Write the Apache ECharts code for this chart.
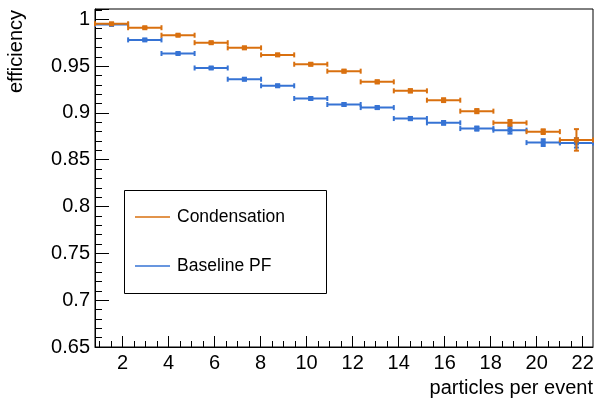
<!DOCTYPE html>
<html>
<head>
<meta charset="utf-8">
<script src="https://cdn.jsdelivr.net/npm/echarts@6/dist/echarts.min.js"></script>
<style>
  html, body { margin: 0; padding: 0; background: #fff; }
  #chart { width: 597px; height: 403px; }
</style>
</head>
<body>
<div id="chart"></div>
<script>
var binEdges = [0.8, 2.24, 3.69, 5.13, 6.57, 8.02, 9.46, 10.9, 12.35, 13.79, 15.23, 16.68, 18.12, 19.56, 21.01, 22.45];
var condensation = [0.9952, 0.991, 0.983, 0.975, 0.9695, 0.962, 0.952, 0.9446, 0.9332, 0.9236, 0.9136, 0.9019, 0.8894, 0.880, 0.8712];
var condensationErr = [0.0005, 0.0008, 0.001, 0.001, 0.0012, 0.0012, 0.0013, 0.0014, 0.0015, 0.0017, 0.002, 0.0022, 0.003, 0.0025, 0.0115];
var baseline = [0.9945, 0.978, 0.9635, 0.948, 0.936, 0.929, 0.9154, 0.909, 0.9057, 0.894, 0.8894, 0.8833, 0.8816, 0.8683, 0.868];
var baselineErr = [0.0005, 0.0008, 0.001, 0.001, 0.0012, 0.0012, 0.0013, 0.0014, 0.0015, 0.0017, 0.002, 0.0022, 0.0037, 0.0036, 0.005];
var xMajorTicks = [2, 4, 6, 8, 10, 12, 14, 16, 18, 20, 22];
var xMinorTicks = [1, 1.5, 2.5, 3, 3.5, 4.5, 5, 5.5, 6.5, 7, 7.5, 8.5, 9, 9.5, 10.5, 11, 11.5,
  12.5, 13, 13.5, 14.5, 15, 15.5, 16.5, 17, 17.5, 18.5, 19, 19.5, 20.5, 21, 21.5, 22.5];

var orange = '#d9700f';
var blue = '#3673d4';
var font = 'Liberation Sans, Arial, Helvetica, sans-serif';

var chartDom = document.getElementById('chart');
var myChart = echarts.init(chartDom);

function histData(vals, errs) {
  return vals.map(function (v, i) {
    return [binEdges[i], binEdges[i + 1], v, errs[i]];
  });
}

function renderBin(color) {
  return function (params, api) {
    var lo = api.value(0), hi = api.value(1), v = api.value(2), e = api.value(3);
    var a = api.coord([lo, v]);
    var b = api.coord([hi, v]);
    var xc = (a[0] + b[0]) / 2;
    var yt = api.coord([lo, v + e])[1];
    var yb = api.coord([lo, v - e])[1];
    var st = { stroke: color, lineWidth: 2 };
    return {
      type: 'group',
      children: [
        { type: 'line', shape: { x1: a[0], y1: a[1], x2: b[0], y2: b[1] }, style: st },
        { type: 'line', shape: { x1: a[0], y1: a[1] - 2.5, x2: a[0], y2: a[1] + 2.5 }, style: st },
        { type: 'line', shape: { x1: b[0], y1: b[1] - 2.5, x2: b[0], y2: b[1] + 2.5 }, style: st },
        { type: 'line', shape: { x1: xc, y1: yt, x2: xc, y2: yb }, style: st },
        { type: 'line', shape: { x1: xc - 2.5, y1: yt, x2: xc + 2.5, y2: yt }, style: st },
        { type: 'line', shape: { x1: xc - 2.5, y1: yb, x2: xc + 2.5, y2: yb }, style: st },
        { type: 'rect', shape: { x: xc - 2.5, y: a[1] - 2.5, width: 5, height: 5 }, style: { fill: color } }
      ]
    };
  };
}

var option = {
  animation: false,
  grid: {
    left: 95, right: 4, top: 9, bottom: 56,
    show: true, borderColor: '#000', borderWidth: 1, backgroundColor: '#fff'
  },
  xAxis: [
    {
      type: 'value', min: 0.8, max: 22.45, position: 'bottom',
      axisLine: { show: true, lineStyle: { color: '#000', width: 1 } },
      axisTick: { show: true, inside: true, length: 11, customValues: xMajorTicks, lineStyle: { color: '#000' } },
      axisLabel: { customValues: xMajorTicks, color: '#000', fontSize: 20, fontFamily: font, margin: 6 },
      splitLine: { show: false }
    },
    {
      type: 'value', min: 0.8, max: 22.45, position: 'bottom',
      axisLine: { show: false },
      axisTick: { show: true, inside: true, length: 6, customValues: xMinorTicks, lineStyle: { color: '#000' } },
      axisLabel: { show: false },
      splitLine: { show: false }
    }
  ],
  yAxis: {
    type: 'value', min: 0.65, max: 1.011, interval: 0.05,
    axisLine: { show: true, lineStyle: { color: '#000', width: 1 } },
    axisTick: { show: true, inside: true, length: 14, lineStyle: { color: '#000' } },
    minorTick: { show: true, splitNumber: 5, length: 7, lineStyle: { color: '#000' } },
    axisLabel: {
      color: '#000', fontSize: 20, fontFamily: font, margin: 5, showMaxLabel: false,
      formatter: function (v) { return String(+v.toFixed(2)); }
    },
    splitLine: { show: false },
    minorSplitLine: { show: false }
  },
  series: [
    {
      name: 'Condensation', type: 'custom', xAxisIndex: 0,
      renderItem: renderBin(orange),
      encode: { x: [0, 1], y: 2 },
      data: histData(condensation, condensationErr), z: 3
    },
    {
      name: 'Baseline PF', type: 'custom', xAxisIndex: 0,
      renderItem: renderBin(blue),
      encode: { x: [0, 1], y: 2 },
      data: histData(baseline, baselineErr), z: 2
    }
  ],
  graphic: [
    {
      type: 'text', x: 16, y: 10, rotation: Math.PI / 2,
      style: {
        text: 'efficiency', fill: '#000', font: '20px ' + font,
        x: 0, y: 0, align: 'right', verticalAlign: 'middle'
      }, z: 10
    },
    {
      type: 'text', style: {
        text: 'particles per event', fill: '#000', font: '20px ' + font,
        x: 593, y: 388, align: 'right', verticalAlign: 'middle'
      }, z: 10
    },
    {
      type: 'rect', shape: { x: 124.5, y: 190.5, width: 202, height: 103 },
      style: { fill: '#fff', stroke: '#000', lineWidth: 1 }, z: 20
    },
    {
      type: 'line', shape: { x1: 135, y1: 217, x2: 170, y2: 217 },
      style: { stroke: orange, lineWidth: 1.5 }, z: 21
    },
    {
      type: 'text', style: {
        text: 'Condensation', fill: '#000', font: '17.5px ' + font,
        x: 177, y: 217, verticalAlign: 'middle'
      }, z: 21
    },
    {
      type: 'line', shape: { x1: 135, y1: 266, x2: 170, y2: 266 },
      style: { stroke: blue, lineWidth: 1.5 }, z: 21
    },
    {
      type: 'text', style: {
        text: 'Baseline PF', fill: '#000', font: '17.5px ' + font,
        x: 177, y: 266, verticalAlign: 'middle'
      }, z: 21
    }
  ]
};

option && myChart.setOption(option);
</script>
</body>
</html>
